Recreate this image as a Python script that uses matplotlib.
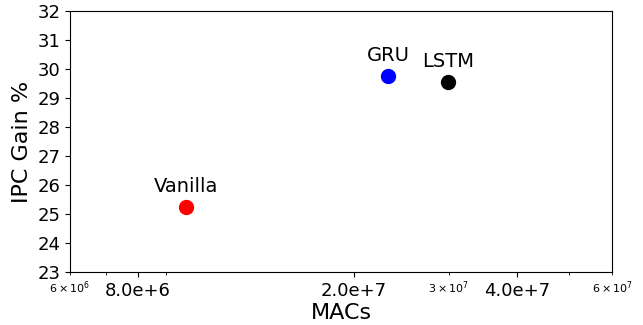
import matplotlib
matplotlib.use('Agg')
import matplotlib.pyplot as plt
import numpy as np

# model size (MACs) vs IPC gain for each RNN type
models = ['Vanilla', 'GRU', 'LSTM']
macs = [9.8e6, 2.32e7, 2.99e7]
ipc_gain = [25.25, 29.75, 29.55]
colors = ['red', 'blue', 'black']

xticks = [8e6, 2e7, 4e7]
xtick_labels = ['8.0e+6', '2.0e+7', '4.0e+7']

fig, ax = plt.subplots(figsize=(6.43, 3.25), dpi=100)
fig.subplots_adjust(left=0.109, right=0.952, top=0.966, bottom=0.163)

for name, x, y, c in zip(models, macs, ipc_gain, colors):
    ax.scatter(x, y, s=100, color=c, zorder=3)
    ax.annotate(name, (x, y), xytext=(0, 8), textcoords='offset points',
                ha='center', va='bottom', fontsize=14)

ax.set_xscale('log')
ax.set_xlim(6e6, 6e7)
ax.set_ylim(23, 32)
ax.set_yticks(np.arange(23, 33, 1))
ax.set_xticks(xticks)
ax.set_xticklabels(xtick_labels)
ax.tick_params(axis='both', which='major', labelsize=13)
ax.tick_params(axis='x', which='minor', labelsize=8)

ax.set_xlabel('MACs', fontsize=16, labelpad=2)
ax.set_ylabel('IPC Gain %', fontsize=16)

plt.savefig('out.png', dpi=100)
